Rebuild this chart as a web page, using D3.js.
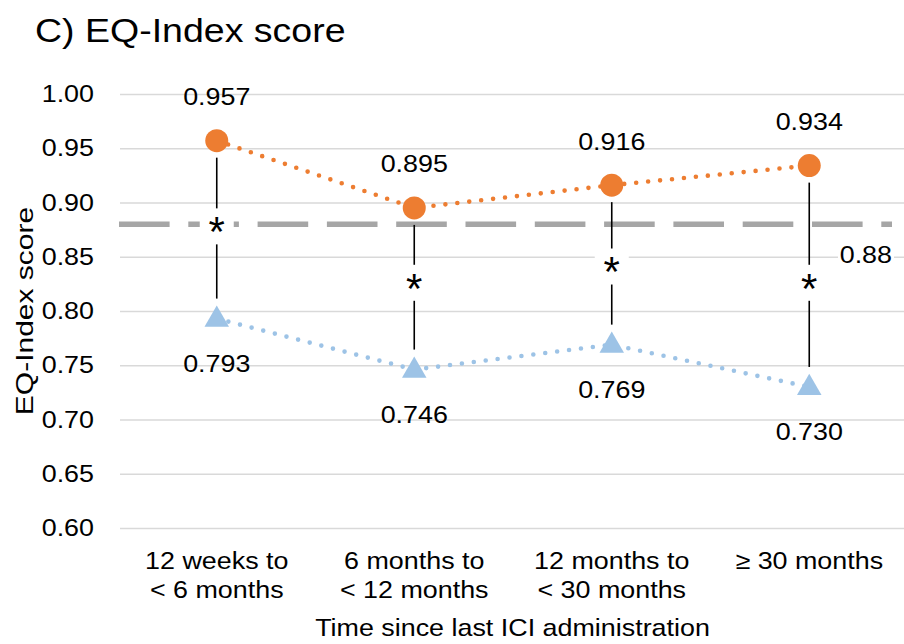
<!DOCTYPE html>
<html>
<head>
<meta charset="utf-8">
<script src="https://cdn.jsdelivr.net/npm/d3@7"></script>
<style>
  body { margin: 0; background: #fff; }
  text { font-family: "Liberation Sans", Arial, sans-serif; fill: #000; }
</style>
</head>
<body>
<div id="chart"></div>
<script>
// EQ-Index score by time since last ICI administration
const width = 904;
const height = 644;

const categories = ["12 weeks to\n< 6 months", "6 months to\n< 12 months", "12 months to\n< 30 months", "≥ 30 months"];
const orangeValues = [0.957, 0.895, 0.916, 0.934];
const blueValues = [0.793, 0.746, 0.769, 0.730];
const starLevels = [0.878, 0.826, 0.841, 0.826];
const refValue = 0.88;
const yTicks = [0.60, 0.65, 0.70, 0.75, 0.80, 0.85, 0.90, 0.95, 1.00];

const orange = "#ed7d31";
const blue = "#9dc3e6";
const SX = 1.12; // glyphs in the picture are a bit wide

const svg = d3.select("#chart")
    .append("svg")
    .attr("width", width)
    .attr("height", height);

const x = d3.scaleBand().domain(categories).range([118, 908]);
const cx = d => x(d) + x.bandwidth() / 2;
const y = d3.scaleLinear().domain([0.6, 1.0]).range([528, 94]);

function label(g, px, py, str, size, anchor) {
    return g.append("text")
        .attr("transform", `translate(${px},${py}) scale(${SX},1)`)
        .attr("text-anchor", anchor || "middle")
        .attr("font-size", size)
        .text(str);
}

// title
label(svg, 35, 42, "C) EQ-Index score", 33.5, "start");

// y axis with gridlines
svg.append("g")
    .attr("transform", "translate(120,0)")
    .call(d3.axisLeft(y).tickValues(yTicks).tickSize(-(width - 120)).tickFormat(d3.format(".2f")))
    .call(g => g.select(".domain").remove())
    .call(g => g.selectAll(".tick line").attr("stroke", "#d9d9d9").attr("stroke-width", 1.5))
    .call(g => g.selectAll(".tick text")
        .attr("x", -26 / SX)
        .attr("transform", `scale(${SX},1)`)
        .attr("font-size", 24)
        .attr("font-family", null)
        .attr("fill", "#000"));

// y axis title
svg.append("text")
    .attr("transform", `translate(33,311) rotate(-90) scale(1.25,1)`)
    .attr("text-anchor", "middle")
    .attr("font-size", 24)
    .text("EQ-Index score");

// x axis labels
const xAxis = svg.append("g")
    .attr("transform", "translate(0,528)")
    .call(d3.axisBottom(x).tickSize(0).tickPadding(0))
    .call(g => g.select(".domain").remove());

xAxis.selectAll(".tick text").each(function(d) {
    const t = d3.select(this)
        .text(null)
        .attr("y", null)
        .attr("dy", null)
        .attr("font-size", 24)
        .attr("font-family", null)
        .attr("fill", "#000")
        .attr("transform", `scale(${SX},1)`);
    d.split("\n").forEach((line, i) => {
        t.append("tspan").attr("x", 0).attr("y", 41.5 + i * 29).text(line);
    });
});

label(svg, 512.5, 636, "Time since last ICI administration", 24);

// reference line
svg.append("line")
    .attr("x1", 119).attr("x2", 892)
    .attr("y1", y(refValue)).attr("y2", y(refValue))
    .attr("stroke", "#a6a6a6")
    .attr("stroke-width", 5.5)
    .attr("stroke-dasharray", "50.6 18.7");

const refLabel = svg.append("g");
refLabel.append("rect")
    .attr("x", 838).attr("y", y(refValue) + 18)
    .attr("width", 56).attr("height", 26)
    .attr("fill", "#fff");
label(refLabel, 892, y(refValue) + 39, "0.88", 24, "end");

// dotted series lines
const line = d3.line().x((d, i) => cx(categories[i])).y(d => y(d));

svg.append("path")
    .datum(orangeValues)
    .attr("d", line)
    .attr("fill", "none")
    .attr("stroke", orange)
    .attr("stroke-width", 4.6)
    .attr("stroke-linecap", "round")
    .attr("stroke-dasharray", "0 12");

svg.append("path")
    .datum(blueValues)
    .attr("d", line)
    .attr("fill", "none")
    .attr("stroke", blue)
    .attr("stroke-width", 4.6)
    .attr("stroke-linecap", "round")
    .attr("stroke-dasharray", "0 12");

// significance connectors
const pairs = categories.map((c, i) => ({ c, hi: orangeValues[i], lo: blueValues[i], star: starLevels[i] }));

svg.append("g")
    .selectAll("line")
    .data(pairs)
    .enter().append("line")
    .attr("x1", d => cx(d.c)).attr("x2", d => cx(d.c))
    .attr("y1", d => y(d.hi) + 17)
    .attr("y2", d => y(d.lo) - 20)
    .attr("stroke", "#000")
    .attr("stroke-width", 1.6);

const stars = svg.append("g")
    .selectAll("g")
    .data(pairs)
    .enter().append("g")
    .attr("transform", d => `translate(${cx(d.c)},${y(d.star)})`);

stars.append("rect")
    .attr("x", -17).attr("y", -18)
    .attr("width", 34).attr("height", 36)
    .attr("fill", "#fff");

stars.append("text")
    .attr("text-anchor", "middle")
    .attr("dy", "0.47em")
    .attr("font-size", 42)
    .text("*");

// markers
svg.append("g")
    .selectAll("circle")
    .data(orangeValues)
    .enter().append("circle")
    .attr("cx", (d, i) => cx(categories[i]))
    .attr("cy", d => y(d))
    .attr("r", 11.5)
    .attr("fill", orange);

svg.append("g")
    .selectAll("path")
    .data(blueValues)
    .enter().append("path")
    .attr("d", d3.symbol(d3.symbolTriangle, 260))
    .attr("transform", (d, i) => `translate(${cx(categories[i])},${y(d) + 1})`)
    .attr("fill", blue);

// value labels
const fmt = d3.format(".3f");
orangeValues.forEach((v, i) => {
    label(svg, cx(categories[i]), y(v) - 44, fmt(v), 24).attr("dy", "0.35em");
});
blueValues.forEach((v, i) => {
    label(svg, cx(categories[i]), y(v) + 45, fmt(v), 24).attr("dy", "0.35em");
});
</script>
</body>
</html>
